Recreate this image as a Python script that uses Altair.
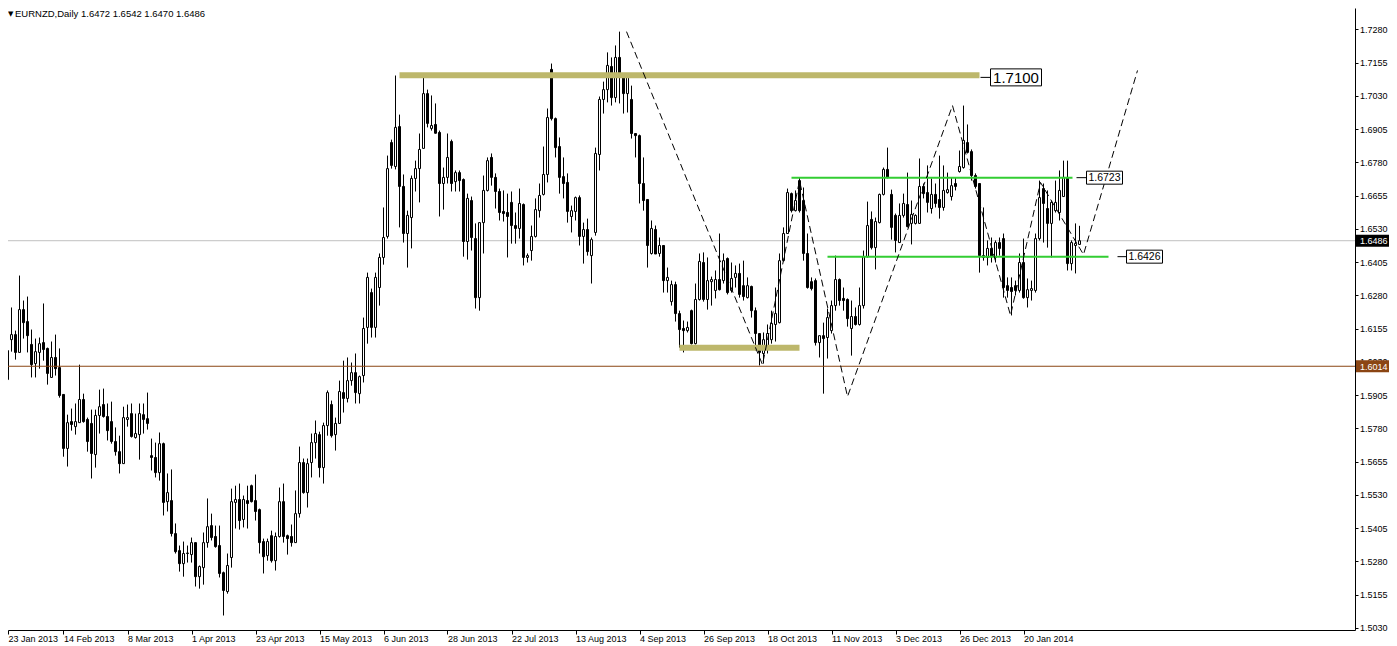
import altair as alt
import pandas as pd

# ---------------- data (EURNZD daily) ----------------
OPEN = [
    1.5885, 1.5806, 1.5964, 1.6114, 1.6133, 1.6066, 1.6227, 1.6182, 1.6096, 1.6024,
    1.6066, 1.6103, 1.6081, 1.5972, 1.6047, 1.6009, 1.5908, 1.5705, 1.5806, 1.5787,
    1.5802, 1.5889, 1.5814, 1.5799, 1.5682, 1.5829, 1.5870, 1.5825, 1.5806, 1.5731,
    1.5693, 1.5648, 1.5814, 1.5836, 1.5746, 1.5757, 1.5832, 1.5817, 1.5678, 1.5671,
    1.5614, 1.5723, 1.5505, 1.5509, 1.5385, 1.5321, 1.5272, 1.5310, 1.5306, 1.5351,
    1.5223, 1.5257, 1.5351, 1.5415, 1.5374, 1.5340, 1.5238, 1.5167, 1.5295, 1.5502,
    1.5513, 1.5438, 1.5509, 1.5565, 1.5509, 1.5475, 1.5355, 1.5302, 1.5377, 1.5283,
    1.5374, 1.5505, 1.5377, 1.5374, 1.5351, 1.5460, 1.5652, 1.5539, 1.5652, 1.5727,
    1.5757, 1.5633, 1.5791, 1.5870, 1.5757, 1.5799, 1.5915, 1.5893, 1.5960, 1.5990,
    1.5911, 1.5979, 1.6160, 1.6291, 1.6160, 1.6310, 1.6423, 1.6502, 1.6855, 1.6765,
    1.6915, 1.6690, 1.6513, 1.6573, 1.6720, 1.6757, 1.6833, 1.7039, 1.6908, 1.6923,
    1.6893, 1.6701, 1.6724, 1.6859, 1.6708, 1.6742, 1.6716, 1.6483, 1.6637, 1.6494,
    1.6272, 1.6554, 1.6675, 1.6799, 1.6724, 1.6671, 1.6596, 1.6592, 1.6630, 1.6543,
    1.6532, 1.6622, 1.6423, 1.6449, 1.6502, 1.6599, 1.6660, 1.6735, 1.7130, 1.6945,
    1.6840, 1.6727, 1.6705, 1.6577, 1.6596, 1.6648, 1.6502, 1.6528, 1.6430, 1.6517,
    1.6810, 1.7017, 1.7054, 1.7141, 1.7024, 1.7175, 1.7103, 1.7039, 1.7017, 1.6889,
    1.6881, 1.6701, 1.6641, 1.6438, 1.6528, 1.6438, 1.6468, 1.6336, 1.6257, 1.6321,
    1.6212, 1.6156, 1.6148, 1.6223, 1.6099, 1.6265, 1.6404, 1.6265, 1.6332, 1.6299,
    1.6340, 1.6336, 1.6419, 1.6299, 1.6348, 1.6363, 1.6317, 1.6272, 1.6314, 1.6223,
    1.6137, 1.6062, 1.6081, 1.6114, 1.6171, 1.6178, 1.6411, 1.6513, 1.6663, 1.6599,
    1.6712, 1.6637, 1.6438, 1.6332, 1.6336, 1.6103, 1.6129, 1.6122, 1.6148, 1.6242,
    1.6340, 1.6269, 1.6265, 1.6156, 1.6201, 1.6171, 1.6242, 1.6426, 1.6566, 1.6460,
    1.6554, 1.6660, 1.6754, 1.6660, 1.6581, 1.6479, 1.6581, 1.6622, 1.6551, 1.6551,
    1.6551, 1.6690, 1.6667, 1.6607, 1.6660, 1.6641, 1.6611, 1.6667, 1.6652, 1.6701,
    1.6746, 1.6761, 1.6855, 1.6821, 1.6731, 1.6701, 1.6430, 1.6423, 1.6457, 1.6423,
    1.6479, 1.6494, 1.6317, 1.6310, 1.6317, 1.6299, 1.6404, 1.6272, 1.6299, 1.6299,
    1.6494, 1.6682, 1.6607, 1.6551, 1.6599, 1.6592, 1.6652, 1.6724, 1.6400, 1.6468,
    1.6472,
]
HIGH = [
    1.5949, 1.5972, 1.6107, 1.6235, 1.6148, 1.6355, 1.6261, 1.6276, 1.6152, 1.6118,
    1.6122, 1.6250, 1.6084, 1.6107, 1.6133, 1.6081, 1.5908, 1.5832, 1.5855, 1.5874,
    1.6020, 1.5911, 1.5821, 1.5851, 1.5851, 1.5926, 1.5930, 1.5874, 1.5881, 1.5784,
    1.5753, 1.5862, 1.5870, 1.5874, 1.5836, 1.5874, 1.5874, 1.5915, 1.5742, 1.5727,
    1.5765, 1.5727, 1.5611, 1.5626, 1.5423, 1.5340, 1.5355, 1.5340, 1.5370, 1.5351,
    1.5265, 1.5389, 1.5517, 1.5460, 1.5415, 1.5415, 1.5242, 1.5310, 1.5554, 1.5565,
    1.5573, 1.5528, 1.5565, 1.5569, 1.5607, 1.5479, 1.5366, 1.5366, 1.5396, 1.5389,
    1.5558, 1.5573, 1.5381, 1.5419, 1.5547, 1.5712, 1.5667, 1.5667, 1.5761, 1.5810,
    1.5768, 1.5802, 1.5923, 1.5885, 1.5821, 1.5960, 1.6035, 1.6047, 1.6028, 1.6062,
    1.5979, 1.6197, 1.6366, 1.6306, 1.6366, 1.6438, 1.6611, 1.6806, 1.6866, 1.7107,
    1.6960, 1.6735, 1.6599, 1.6731, 1.6787, 1.6889, 1.7111, 1.7054, 1.7032, 1.7002,
    1.6900, 1.6761, 1.6889, 1.6866, 1.6750, 1.6750, 1.6720, 1.6663, 1.6652, 1.6551,
    1.6554, 1.6731, 1.6799, 1.6814, 1.6739, 1.6682, 1.6675, 1.6663, 1.6671, 1.6592,
    1.6682, 1.6626, 1.6438, 1.6543, 1.6645, 1.6701, 1.6840, 1.6983, 1.7152, 1.6949,
    1.6874, 1.6799, 1.6739, 1.6618, 1.6652, 1.6656, 1.6554, 1.6569, 1.6498, 1.6836,
    1.7028, 1.7084, 1.7194, 1.7175, 1.7220, 1.7272, 1.7107, 1.7115, 1.7069, 1.6889,
    1.6885, 1.6799, 1.6641, 1.6562, 1.6543, 1.6498, 1.6468, 1.6385, 1.6336, 1.6332,
    1.6223, 1.6186, 1.6182, 1.6227, 1.6325, 1.6438, 1.6442, 1.6423, 1.6351, 1.6374,
    1.6513, 1.6438, 1.6423, 1.6404, 1.6393, 1.6400, 1.6411, 1.6348, 1.6317, 1.6235,
    1.6137, 1.6141, 1.6171, 1.6223, 1.6310, 1.6438, 1.6536, 1.6682, 1.6667, 1.6675,
    1.6724, 1.6686, 1.6513, 1.6348, 1.6344, 1.6129, 1.6178, 1.6231, 1.6261, 1.6430,
    1.6344, 1.6310, 1.6269, 1.6261, 1.6235, 1.6310, 1.6449, 1.6633, 1.6596, 1.6573,
    1.6663, 1.6761, 1.6836, 1.6678, 1.6588, 1.6626, 1.6663, 1.6742, 1.6637, 1.6585,
    1.6795, 1.6701, 1.6769, 1.6720, 1.6701, 1.6806, 1.6769, 1.6742, 1.6724, 1.6724,
    1.6825, 1.6994, 1.6923, 1.6829, 1.6739, 1.6701, 1.6611, 1.6487, 1.6498, 1.6487,
    1.6498, 1.6513, 1.6348, 1.6348, 1.6336, 1.6438, 1.6494, 1.6344, 1.6336, 1.6513,
    1.6712, 1.6701, 1.6675, 1.6637, 1.6712, 1.6750, 1.6787, 1.6787, 1.6487, 1.6551,
    1.6542,
]
LOW = [
    1.5761, 1.5761, 1.5949, 1.6069, 1.6039, 1.6066, 1.6118, 1.6066, 1.5972, 1.5972,
    1.6005, 1.6035, 1.5945, 1.5972, 1.5979, 1.5896, 1.5674, 1.5637, 1.5772, 1.5757,
    1.5802, 1.5802, 1.5693, 1.5592, 1.5633, 1.5761, 1.5821, 1.5735, 1.5723, 1.5678,
    1.5611, 1.5648, 1.5787, 1.5746, 1.5742, 1.5663, 1.5761, 1.5776, 1.5622, 1.5596,
    1.5584, 1.5453, 1.5468, 1.5374, 1.5310, 1.5242, 1.5223, 1.5276, 1.5276, 1.5186,
    1.5178, 1.5193, 1.5332, 1.5359, 1.5332, 1.5220, 1.5077, 1.5159, 1.5257, 1.5404,
    1.5400, 1.5408, 1.5404, 1.5502, 1.5434, 1.5310, 1.5235, 1.5283, 1.5276, 1.5246,
    1.5370, 1.5351, 1.5306, 1.5336, 1.5351, 1.5445, 1.5535, 1.5483, 1.5596, 1.5667,
    1.5596, 1.5573, 1.5753, 1.5746, 1.5697, 1.5799, 1.5840, 1.5878, 1.5941, 1.5874,
    1.5874, 1.5953, 1.6099, 1.6122, 1.6122, 1.6242, 1.6396, 1.6494, 1.6757, 1.6754,
    1.6536, 1.6479, 1.6385, 1.6457, 1.6671, 1.6630, 1.6833, 1.6912, 1.6900, 1.6889,
    1.6577, 1.6603, 1.6701, 1.6671, 1.6671, 1.6671, 1.6426, 1.6415, 1.6449, 1.6231,
    1.6223, 1.6438, 1.6671, 1.6693, 1.6607, 1.6562, 1.6558, 1.6423, 1.6475, 1.6475,
    1.6494, 1.6393, 1.6404, 1.6411, 1.6498, 1.6573, 1.6656, 1.6705, 1.6938, 1.6799,
    1.6663, 1.6645, 1.6554, 1.6517, 1.6562, 1.6468, 1.6400, 1.6430, 1.6325, 1.6505,
    1.6750, 1.6964, 1.7006, 1.6994, 1.7006, 1.7002, 1.6964, 1.6968, 1.6870, 1.6799,
    1.6626, 1.6599, 1.6385, 1.6434, 1.6438, 1.6426, 1.6291, 1.6291, 1.6242, 1.6182,
    1.6084, 1.6066, 1.6141, 1.6096, 1.6096, 1.6261, 1.6257, 1.6227, 1.6242, 1.6269,
    1.6299, 1.6325, 1.6284, 1.6291, 1.6310, 1.6272, 1.6261, 1.6269, 1.6197, 1.6073,
    1.6017, 1.6024, 1.6062, 1.6099, 1.6107, 1.6175, 1.6408, 1.6513, 1.6592, 1.6596,
    1.6592, 1.6411, 1.6306, 1.6299, 1.6092, 1.6047, 1.5911, 1.6043, 1.6137, 1.6223,
    1.6242, 1.6223, 1.6163, 1.6054, 1.6167, 1.6167, 1.6231, 1.6423, 1.6453, 1.6378,
    1.6551, 1.6656, 1.6720, 1.6490, 1.6442, 1.6479, 1.6573, 1.6536, 1.6472, 1.6547,
    1.6551, 1.6645, 1.6592, 1.6588, 1.6611, 1.6569, 1.6599, 1.6663, 1.6637, 1.6675,
    1.6742, 1.6757, 1.6814, 1.6712, 1.6682, 1.6366, 1.6411, 1.6393, 1.6404, 1.6404,
    1.6430, 1.6272, 1.6272, 1.6205, 1.6280, 1.6291, 1.6268, 1.6235, 1.6261, 1.6291,
    1.6487, 1.6479, 1.6460, 1.6423, 1.6592, 1.6562, 1.6652, 1.6374, 1.6374, 1.6363,
    1.6470,
]
CLOSE = [
    1.5810, 1.5968, 1.6073, 1.6133, 1.6066, 1.6227, 1.6178, 1.6129, 1.6020, 1.6069,
    1.6099, 1.6077, 1.5987, 1.6047, 1.6005, 1.5904, 1.5705, 1.5802, 1.5795, 1.5806,
    1.5889, 1.5806, 1.5731, 1.5686, 1.5829, 1.5862, 1.5825, 1.5772, 1.5731, 1.5693,
    1.5648, 1.5821, 1.5821, 1.5750, 1.5761, 1.5836, 1.5814, 1.5799, 1.5671, 1.5614,
    1.5723, 1.5502, 1.5539, 1.5385, 1.5317, 1.5272, 1.5310, 1.5312, 1.5351, 1.5223,
    1.5261, 1.5351, 1.5411, 1.5370, 1.5336, 1.5235, 1.5171, 1.5265, 1.5505, 1.5513,
    1.5434, 1.5513, 1.5498, 1.5505, 1.5468, 1.5351, 1.5298, 1.5355, 1.5283, 1.5374,
    1.5505, 1.5374, 1.5366, 1.5351, 1.5460, 1.5652, 1.5539, 1.5648, 1.5727, 1.5761,
    1.5633, 1.5791, 1.5915, 1.5753, 1.5799, 1.5919, 1.5893, 1.5960, 1.5990, 1.5915,
    1.5975, 1.6156, 1.6348, 1.6160, 1.6348, 1.6423, 1.6498, 1.6757, 1.6769, 1.6912,
    1.6690, 1.6513, 1.6581, 1.6720, 1.6757, 1.6829, 1.7039, 1.6927, 1.6919, 1.6890,
    1.6701, 1.6724, 1.6799, 1.6701, 1.6742, 1.6712, 1.6483, 1.6645, 1.6498, 1.6272,
    1.6554, 1.6675, 1.6787, 1.6724, 1.6671, 1.6592, 1.6588, 1.6577, 1.6543, 1.6532,
    1.6626, 1.6423, 1.6430, 1.6502, 1.6603, 1.6656, 1.6735, 1.6949, 1.6945, 1.6836,
    1.6724, 1.6701, 1.6596, 1.6599, 1.6648, 1.6502, 1.6528, 1.6445, 1.6490, 1.6814,
    1.7017, 1.7054, 1.7145, 1.7024, 1.7175, 1.7100, 1.7039, 1.7103, 1.6889, 1.6881,
    1.6701, 1.6637, 1.6468, 1.6532, 1.6436, 1.6468, 1.6336, 1.6348, 1.6321, 1.6212,
    1.6152, 1.6148, 1.6160, 1.6099, 1.6265, 1.6408, 1.6265, 1.6336, 1.6340, 1.6340,
    1.6302, 1.6411, 1.6291, 1.6344, 1.6363, 1.6284, 1.6276, 1.6317, 1.6223, 1.6137,
    1.6066, 1.6114, 1.6137, 1.6175, 1.6212, 1.6411, 1.6513, 1.6667, 1.6599, 1.6637,
    1.6599, 1.6438, 1.6310, 1.6306, 1.6103, 1.6129, 1.6118, 1.6197, 1.6242, 1.6340,
    1.6261, 1.6261, 1.6193, 1.6201, 1.6171, 1.6242, 1.6426, 1.6543, 1.6460, 1.6558,
    1.6660, 1.6754, 1.6724, 1.6536, 1.6487, 1.6581, 1.6626, 1.6539, 1.6585, 1.6581,
    1.6690, 1.6663, 1.6630, 1.6660, 1.6626, 1.6611, 1.6675, 1.6678, 1.6693, 1.6690,
    1.6765, 1.6863, 1.6818, 1.6731, 1.6690, 1.6430, 1.6423, 1.6457, 1.6426, 1.6479,
    1.6457, 1.6310, 1.6299, 1.6295, 1.6299, 1.6404, 1.6272, 1.6302, 1.6306, 1.6494,
    1.6648, 1.6626, 1.6551, 1.6630, 1.6630, 1.6675, 1.6724, 1.6400, 1.6479, 1.6476,
    1.6486,
]

# x axis: bar index of every 16th trading day and its date label
X_TICK_IDX = [0, 16, 32, 48, 64, 80, 96, 112, 128, 144, 160, 176, 192, 208, 224, 240, 256]
X_LABELS = ["23 Jan 2013", "14 Feb 2013", "8 Mar 2013", "1 Apr 2013", "23 Apr 2013",
            "15 May 2013", "6 Jun 2013", "28 Jun 2013", "22 Jul 2013", "13 Aug 2013",
            "4 Sep 2013", "26 Sep 2013", "18 Oct 2013", "11 Nov 2013", "3 Dec 2013",
            "26 Dec 2013", "20 Jan 2014"]
Y_TICKS = [1.7280, 1.7155, 1.7030, 1.6905, 1.6780, 1.6655, 1.6530, 1.6405, 1.6280,
           1.6155, 1.6030, 1.5905, 1.5780, 1.5655, 1.5530, 1.5405, 1.5280, 1.5155, 1.5030]

TITLE = "EURNZD,Daily  1.6472 1.6542 1.6470 1.6486"
BID = 1.6486
HLINE = 1.6014

# drawn objects: (start bar, end bar, price)
OLIVE_START = [100, 170]
OLIVE_END = [245, 200]
OLIVE_PRICE = [1.7108, 1.6084]
GREEN_START = [198, 207]
GREEN_END = [268.25, 277.25]
GREEN_PRICE = [1.6723, 1.6426]

# price labels attached to the levels
LBL_TEXT = ["1.7100", "1.6723", "1.6426"]
LBL_PRICE = [1.7100, 1.6723, 1.6426]
LBL_LEAD_FROM = [245.25, 269.25, 279.5]
LBL_BOX_AT = [247.75, 271.75, 281.75]

# dashed projection path
ZZ_IDX = [156.75, 190.75, 200, 212, 238.25, 252.75, 260.25, 271, 284.5]
ZZ_PRICE = [1.7272, 1.6020, 1.6712, 1.5900, 1.6994, 1.6205, 1.6705, 1.6434, 1.7126]

# ---------------- styling ----------------
W, H = 1347, 622
PAD_R = 34
X_DOMAIN = [2.125, 338.875]
Y_DOMAIN = [1.5022481, 1.7360827]
FONT = "Liberation Sans"
AXIS_FS = 9
OLIVE = "#BDB76B"
GREEN = "#32CD32"
BROWN = "#8B4513"
GREY = "#C0C0C0"
BOX_W = [51, 36, 36]
BOX_H = [17, 13, 13]
BOX_FS = [15, 10.5, 10.5]

xs = alt.Scale(domain=X_DOMAIN, nice=False, zero=False)
ys = alt.Scale(domain=Y_DOMAIN, nice=False, zero=False)

candles = pd.DataFrame({"i": list(range(len(OPEN))), "o": OPEN, "h": HIGH,
                        "l": LOW, "c": CLOSE})

label_expr = "[" + ",".join("'%s'" % s for s in X_LABELS) + "][round(datum.value / 16)]"
x_tick_vals = [X_DOMAIN[0]] + X_TICK_IDX[1:]

x_axis = alt.Axis(values=x_tick_vals, labelExpr=label_expr, labelAlign="left",
                  labelFlush=False, labelOverlap=False, labelFont=FONT,
                  labelFontSize=AXIS_FS, labelColor="black", tickColor="black",
                  tickSize=4, labelPadding=0, domainColor="black", grid=False,
                  title=None)
y_axis = alt.Axis(orient="right", values=Y_TICKS, format=".4f", labelFont=FONT,
                  labelFontSize=AXIS_FS, labelColor="black", tickColor="black",
                  tickSize=3, labelPadding=1.5, domainColor="black", grid=False,
                  labelOverlap=False, labelFlush=False, title=None)


def Xq(f):
    return alt.X(f, type="quantitative", scale=xs, axis=x_axis)


def Yq(f):
    return alt.Y(f, type="quantitative", scale=ys, axis=y_axis)


layers = []

# bid line (behind the candles)
layers.append(alt.Chart(pd.DataFrame({"p": [BID]})).mark_rule(color=GREY, strokeWidth=1)
              .encode(x=alt.value(0), x2=alt.value(W), y=Yq("p")))

# wicks
layers.append(alt.Chart(candles).mark_rule(color="black", strokeWidth=1)
              .encode(x=Xq("i"), y=Yq("l"), y2="h"))

# bodies
layers.append(alt.Chart(candles)
              .transform_calculate(x0="datum.i - 0.25", x1="datum.i + 0.25")
              .mark_rect(stroke="black", strokeWidth=1)
              .encode(x=Xq("x0"), x2="x1", y=Yq("o"), y2="c",
                      fill=alt.condition(alt.datum.c >= alt.datum.o,
                                         alt.value("white"), alt.value("black"))))

# brown horizontal line
layers.append(alt.Chart(pd.DataFrame({"p": [HLINE]})).mark_rule(color=BROWN, strokeWidth=1)
              .encode(x=alt.value(0), x2=alt.value(W), y=Yq("p")))

# olive zones
olive_df = pd.DataFrame({"a": OLIVE_START, "b": OLIVE_END, "p": OLIVE_PRICE})
layers.append(alt.Chart(olive_df).mark_rule(color=OLIVE, strokeWidth=6)
              .encode(x=Xq("a"), x2="b", y=Yq("p")))

# green levels
green_df = pd.DataFrame({"a": GREEN_START, "b": GREEN_END, "p": GREEN_PRICE})
layers.append(alt.Chart(green_df).mark_rule(color=GREEN, strokeWidth=2)
              .encode(x=Xq("a"), x2="b", y=Yq("p")))

# dashed path
zz_df = pd.DataFrame({"k": list(range(len(ZZ_IDX))), "i": ZZ_IDX, "p": ZZ_PRICE})
layers.append(alt.Chart(zz_df).mark_line(color="black", strokeWidth=1, strokeDash=[7, 4])
              .encode(x=Xq("i"), y=Yq("p"), order="k:Q"))

# level labels with leader lines
for k in range(len(LBL_TEXT)):
    d = pd.DataFrame({"a": [LBL_LEAD_FROM[k]], "b": [LBL_BOX_AT[k]],
                      "p": [LBL_PRICE[k]], "t": [LBL_TEXT[k]]})
    w, h, fs = BOX_W[k], BOX_H[k], BOX_FS[k]
    layers.append(alt.Chart(d).mark_rule(color="black", strokeWidth=1)
                  .encode(x=Xq("a"), x2="b", y=Yq("p")))
    layers.append(alt.Chart(d).mark_rect(fill="white", stroke="black", strokeWidth=1,
                                         x2Offset=w, yOffset=-h / 2, y2Offset=h / 2)
                  .encode(x=Xq("b"), x2="b", y=Yq("p"), y2="p"))
    layers.append(alt.Chart(d).mark_text(align="center", baseline="middle", dx=w / 2,
                                         dy=0.5, font=FONT, fontSize=fs, color="black")
                  .encode(x=Xq("b"), y=Yq("p"), text="t:N"))

# price tags on the axis
tags = pd.DataFrame({"p": [BID, HLINE], "t": ["%.4f" % BID, "%.4f" % HLINE],
                     "bg": ["black", BROWN]})
layers.append(alt.Chart(tags).mark_rect(yOffset=-6, y2Offset=6)
              .encode(x=alt.value(W + 1), x2=alt.value(W + PAD_R), y=Yq("p"), y2="p",
                      fill=alt.Fill("bg:N", scale=None)))
layers.append(alt.Chart(tags).mark_text(align="left", baseline="middle", font=FONT,
                                        fontSize=AXIS_FS, color="white", dy=0.5)
              .encode(x=alt.value(W + 5), y=Yq("p"), text="t:N"))

# header text
layers.append(alt.Chart(pd.DataFrame({"t": ["\u25BC"]}))
              .mark_text(align="left", baseline="top", font="DejaVu Sans", fontSize=7,
                         color="black")
              .encode(x=alt.value(0), y=alt.value(2), text="t:N"))
layers.append(alt.Chart(pd.DataFrame({"t": [TITLE]}))
              .mark_text(align="left", baseline="top", font=FONT, fontSize=9.5,
                         color="black")
              .encode(x=alt.value(7), y=alt.value(1), text="t:N"))

chart = (alt.layer(*layers)
         .properties(width=W, height=H, autosize=alt.AutoSizeParams(type="none"),
                     padding={"left": 0, "top": 0, "right": PAD_R, "bottom": 16},
                     background="white")
         .configure_view(stroke=None))

chart.save("out.html", embed_options={"renderer": "svg", "actions": False})
